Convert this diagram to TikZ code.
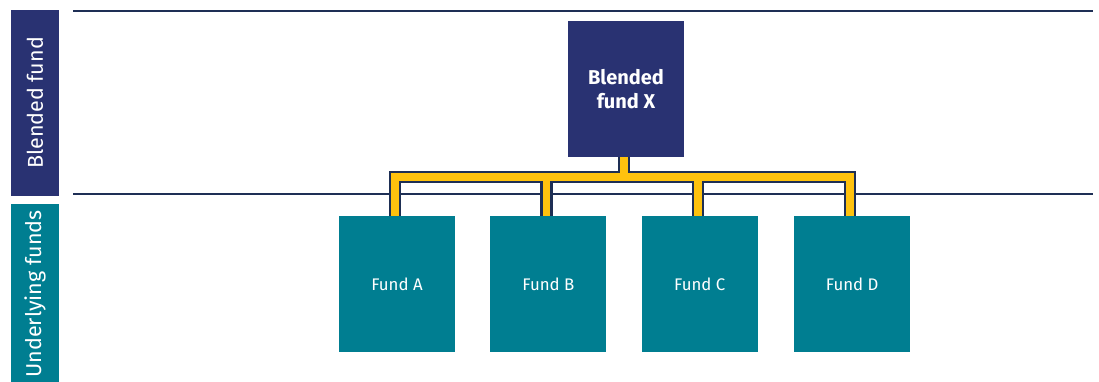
\documentclass[tikz,border=0pt]{standalone}
\usepackage{fontspec}
\setmainfont{Fira Sans}
\usepackage{tikz}
\usetikzlibrary{positioning}
\definecolor{fundnavy}{HTML}{293272}
\definecolor{fundteal}{HTML}{007E91}
\definecolor{rulenavy}{HTML}{1E2F55}
\definecolor{busyellow}{HTML}{FFC20E}
\tikzstyle{rule} = [draw=rulenavy, line width=2pt]

\begin{document}
\begin{tikzpicture}[x=1pt, y=-1pt]
	\useasboundingbox (0,0) rectangle (1099,382);
	% Styles for the bands, the boxes and the yellow bus
	\tikzstyle{band} = [rectangle, rotate=90, inner sep=0pt, minimum height=48pt, text=white, font=\fontsize{21.5}{24}\selectfont]
	\tikzstyle{blended} = [rectangle, fill=fundnavy, minimum width=116pt, minimum height=136pt, inner sep=0pt, text=white, align=center, font=\fontsize{20}{24}\selectfont\bfseries]
	\tikzstyle{fund} = [rectangle, fill=fundteal, minimum width=116pt, minimum height=136pt, inner sep=0pt, text=white, font=\fontsize{16.8}{20}\selectfont]
	\tikzstyle{busline} = [line width=12.5pt, draw=rulenavy, line join=miter]
	\tikzstyle{busfill} = [line width=7.5pt, draw=busyellow, line join=miter]

	% Bands on the left
	\node[band, fill=fundnavy, minimum width=186pt] (topband) at (35,103) {Blended fund};
	\node[band, fill=fundteal, minimum width=180pt] (lowband) at (35,294) {Underlying funds};

	% Rules between the levels
	\coordinate (topruleL) at (73,11);
	\coordinate (topruleR) at (1093,11);
	\coordinate (midruleL) at (73,194);
	\coordinate (midruleR) at (1093,194);
	\draw[rule] (topruleL) -- (topruleR);
	\draw[rule] (midruleL) -- (midruleR);

	% Blended fund and the underlying funds
	\node[blended] (fundx) at (626,89) {Blended\\fund X};
	\node[fund] (funda) at (397,284) {Fund A};
	\node[fund, right=35pt of funda] (fundb) {Fund B};
	\node[fund, right=35pt of fundb] (fundc) {Fund C};
	\node[fund, right=36pt of fundc] (fundd) {Fund D};

	% Drop points, a little left of each box's middle
	\coordinate (dropa) at ([xshift=-2pt]funda.north);
	\coordinate (dropb) at ([xshift=-2pt]fundb.north);
	\coordinate (dropc) at ([xshift=-2pt]fundc.north);
	\coordinate (dropd) at ([xshift=-2pt]fundd.north);
	\coordinate (dropx) at ([xshift=-2pt]fundx.south);

	% Bus from the blended fund down to each fund
	\coordinate (bus) at (0,177);
	\foreach \style in {busline, busfill} {
		\draw[\style] (dropa) -- (dropa |- bus) -- (dropd |- bus) -- (dropd);
		\draw[\style] (dropb) -- (dropb |- bus);
		\draw[\style] (dropc) -- (dropc |- bus);
		\draw[\style] (dropx) -- (dropx |- bus);
	}
\end{tikzpicture}
\end{document}
